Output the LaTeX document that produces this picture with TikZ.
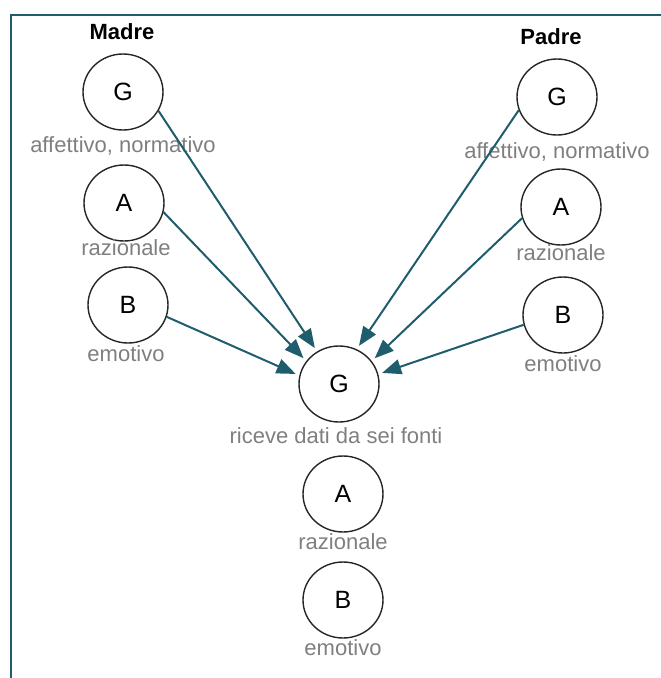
\documentclass[tikz,border=0pt]{standalone}
\usepackage{fontspec}
\setmainfont{Liberation Sans}
\usepackage{xcolor}
\usetikzlibrary{shapes.geometric,arrows.meta,positioning}
\definecolor{tealline}{HTML}{1F5D6D}
\definecolor{lblgray}{HTML}{7F7F7F}

\begin{document}
\begin{tikzpicture}[x=1pt,y=-1pt,
    font=\fontsize{22}{24}\selectfont,
    person/.style={ellipse,draw=black!85,line width=1.4pt,minimum width=80pt,minimum height=76pt,inner sep=0pt,font=\fontsize{25}{27}\selectfont},
    lbl/.style={text=lblgray,inner sep=0pt},
    parent/.style={font=\fontsize{22}{24}\selectfont\bfseries,inner sep=0pt},
    feed/.style={draw=tealline,line width=2pt,-{Triangle[length=19pt,width=15pt]},shorten >=4pt}]
            \useasboundingbox (0,0) rectangle (661,678);
            \draw [tealline,line width=2.5pt] (11,678) -- (11,15) -- (661,15);
            \node [parent] (madre) at (122,32) {Madre};
            \node [person] (mG) at (123,92) {G};
            \node [lbl] (mGl) at (123,146) {affettivo, normativo};
            \node [person] (mA) at (124,203) {A};
            \node [lbl] (mAl) at (126,248) {razionale};
            \node [person] (mB) at (128,305) {B};
            \node [lbl] (mBl) at (126,354) {emotivo};
            \node [parent] (padre) at (551,37) {Padre};
            \node [person] (pG) at (557,97) {G};
            \node [lbl] (pGl) at (557,152) {affettivo, normativo};
            \node [person] (pA) at (561,207) {A};
            \node [lbl] (pAl) at (561,253) {razionale};
            \node [person] (pB) at (563,315) {B};
            \node [lbl] (pBl) at (563,364) {emotivo};
            \node [person] (fG) at (339,384) {G};
            \node [lbl] (fGl) at (336,436) {riceve dati da sei fonti};
            \node [person] (fA) at (343,494) {A};
            \node [lbl] (fAl) at (343,542) {razionale};
            \node [person] (fB) at (343,600) {B};
            \node [lbl] (fBl) at (343,648) {emotivo};
            \draw [feed] (mG.-28) -- (fG.124);
            \draw [feed] (mA.-13) -- (fG.145);
            \draw [feed] (mB.-17) -- (fG.168);
            \draw [feed] (pG.199) -- (fG.63);
            \draw [feed] (pA.196) -- (fG.35);
            \draw [feed] (pB.194) -- (fG.14);
\end{tikzpicture}
\end{document}
